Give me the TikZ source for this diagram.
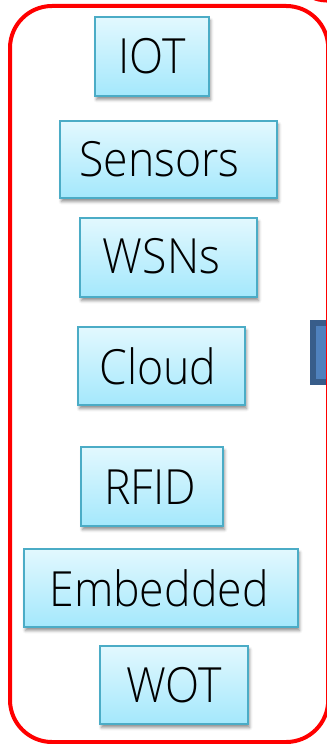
\documentclass[tikz,border=0pt]{standalone}
\usepackage{fontspec}
\newfontfamily\boxfont{Open Sans Light}[FakeStretch=0.92]
\usetikzlibrary{shadows.blur}
\definecolor{boxline}{HTML}{4BACC6}
\definecolor{boxtop}{HTML}{E2F8FE}
\definecolor{boxbot}{HTML}{A4E8FC}
\definecolor{navyline}{HTML}{385D8A}
\definecolor{navyfill}{HTML}{4F81BD}
\tikzset{
  topic/.style={draw=boxline, line width=2bp, top color=boxtop, bottom color=boxbot,
    inner sep=0pt, outer sep=0pt,
    blur shadow={shadow xshift=1.5bp, shadow yshift=-3.5bp, shadow blur radius=3bp, shadow opacity=45}},
  caption/.style={anchor=base, inner sep=0pt, font=\boxfont\fontsize{48.5bp}{52bp}\selectfont},
  frame/.style={draw=red, line width=4bp, rounded corners=42bp},
}
\begin{document}
\begin{tikzpicture}[x=1bp, y=-1bp]
\useasboundingbox (0,0) rectangle (326,744);
% dark blue block at the right margin
\draw[navyline, fill=navyfill, line width=6bp] (312.5,323) rectangle (345,382);
% red rounded frame around the list
\draw[frame] (10,6) rectangle (328.2,742);
% piece of another red outline at the top right
\draw[red, line width=4bp] (309,-5) .. controls (315,-0.5) and (320,0.6) .. (335,0.8);
% topic boxes
\node[topic, minimum width=114bp, minimum height=79bp] (iot) at (152,56.5) {};
\node[topic, minimum width=217bp, minimum height=77bp] (sensors) at (168.5,159.5) {};
\node[topic, minimum width=177bp, minimum height=79bp] (wsns) at (168.5,257.5) {};
\node[topic, minimum width=167bp, minimum height=78bp] (cloud) at (161.5,366) {};
\node[topic, minimum width=142bp, minimum height=79bp] (rfid) at (152,486.5) {};
\node[topic, minimum width=274bp, minimum height=78bp] (embedded) at (161,588) {};
\node[topic, minimum width=148bp, minimum height=78bp] (wot) at (174,685) {};
% labels, baseline about 22bp above the lower edge of each box
\node[caption] (iotlbl) at ([yshift=22bp]iot.south) {IOT};
\node[caption] (sensorslbl) at ([xshift=-9bp, yshift=21.5bp]sensors.south) {Sensors};
\node[caption] (wsnslbl) at ([xshift=-7bp, yshift=23.5bp]wsns.south) {WSNs};
\node[caption] (cloudlbl) at ([xshift=-3.5bp, yshift=21bp]cloud.south) {Cloud};
\node[caption] (rfidlbl) at ([xshift=-2bp, yshift=22bp]rfid.south) {RFID};
\node[caption] (embeddedlbl) at ([xshift=-2bp, yshift=21bp]embedded.south) {Embedded};
\node[caption] (wotlbl) at ([yshift=22bp]wot.south) {WOT};
\end{tikzpicture}
\end{document}
